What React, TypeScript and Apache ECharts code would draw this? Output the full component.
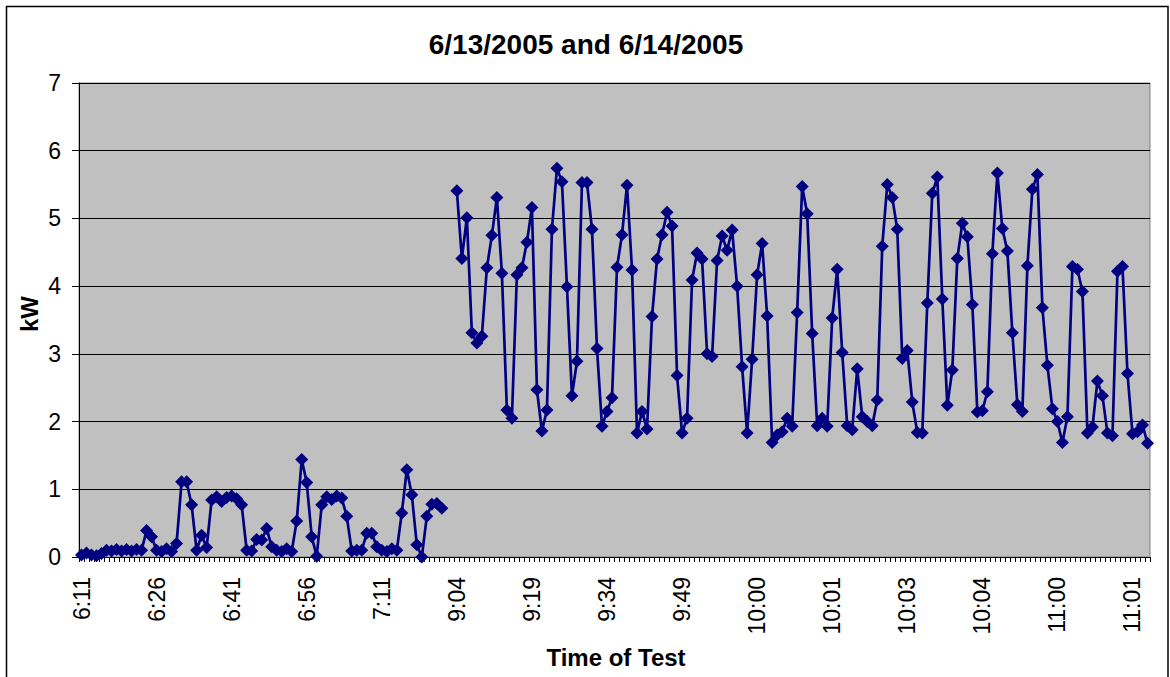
import React, { useEffect, useRef } from "react";
import * as echarts from "echarts";

// Tick labels shown every 15 readings
const tickLabels = [
  "6:11", "6:26", "6:41", "6:56", "7:11", "9:04", "9:19", "9:34",
  "9:49", "10:00", "10:01", "10:03", "10:04", "11:00", "11:01",
];
const labelEvery = 15;

// 6/13/2005 session (kW)
const day1Values = [
  0.03, 0.06, 0.03, 0.02, 0.05, 0.1, 0.09, 0.11, 0.09, 0.11, 0.09, 0.11, 0.1,
  0.39, 0.3, 0.1, 0.08, 0.12, 0.08, 0.2, 1.11, 1.11, 0.77, 0.1, 0.32, 0.14,
  0.84, 0.89, 0.82, 0.88, 0.9, 0.86, 0.77, 0.1, 0.09, 0.26, 0.25, 0.42, 0.15,
  0.1, 0.08, 0.12, 0.08, 0.53, 1.44, 1.1, 0.3, 0.01, 0.77, 0.89, 0.85, 0.9,
  0.87, 0.6, 0.09, 0.1, 0.1, 0.35, 0.35, 0.15, 0.1, 0.08, 0.12, 0.1, 0.65,
  1.29, 0.92, 0.18, 0.0, 0.6, 0.78, 0.79, 0.72,
];
// missing readings between the sessions
const gapValues = [null, null];
// 6/14/2005 session (kW)
const day2Values = [
  5.41, 4.41, 5.01, 3.31, 3.16, 3.26, 4.27, 4.75, 5.31, 4.19, 2.17, 2.05, 4.17,
  4.27, 4.65, 5.16, 2.47, 1.86, 2.17, 4.84, 5.74, 5.54, 3.99, 2.38, 2.89, 5.53,
  5.53, 4.84, 3.08, 1.93, 2.15, 2.35, 4.28, 4.76, 5.49, 4.24, 1.83, 2.15, 1.89,
  3.55, 4.4, 4.76, 5.09, 4.89, 2.68, 1.83, 2.05, 4.09, 4.49, 4.4, 3.0, 2.96,
  4.38, 4.74, 4.53, 4.83, 4.0, 2.81, 1.83, 2.92, 4.17, 4.63, 3.56, 1.69, 1.8,
  1.85, 2.05, 1.93, 3.61, 5.47, 5.07, 3.3, 1.94, 2.05, 1.93, 3.53, 4.25, 3.02,
  1.94, 1.88, 2.78, 2.07, 2.0, 1.94, 2.32, 4.59, 5.5, 5.31, 4.84, 2.93, 3.05,
  2.29, 1.84, 1.83, 3.75, 5.37, 5.61, 3.81, 2.24, 2.76, 4.41, 4.93, 4.73, 3.73,
  2.14, 2.16, 2.44, 4.48, 5.67, 4.85, 4.52, 3.31, 2.25, 2.15, 4.3, 5.43, 5.65,
  3.68, 2.83, 2.19, 2.0, 1.69, 2.07, 4.29, 4.25, 3.92, 1.83, 1.92, 2.6, 2.38,
  1.83, 1.79, 4.22, 4.29, 2.71, 1.82, 1.85, 1.95, 1.68,
];

const values = [...day1Values, ...gapValues, ...day2Values];
const categories = values.map((_, i) =>
  i % labelEvery === 0 ? tickLabels[i / labelEvery] ?? "" : `r${i}`
);

const FONT = "'Liberation Sans', Arial, sans-serif";

export default function App() {
  const ref = useRef<HTMLDivElement>(null);
  useEffect(() => {
    if (!ref.current) return;
    const chart = echarts.init(ref.current, null, { renderer: "svg" });
    chart.setOption({
      animation: false,
      backgroundColor: "#ffffff",
      grid: {
        left: 79,
        top: 83,
        width: 1071,
        height: 474,
        show: true,
        backgroundColor: "#C0C0C0",
        borderColor: "#808080",
        borderWidth: 1,
      },
      xAxis: {
        type: "category",
        data: categories,
        boundaryGap: true,
        axisLine: { show: true, lineStyle: { color: "#000", width: 1 } },
        axisTick: {
          show: true,
          interval: 0,
          length: 5,
          lineStyle: { color: "#000", width: 1 },
        },
        axisLabel: {
          interval: labelEvery - 1,
          rotate: 90,
          margin: 20,
          color: "#000",
          fontFamily: FONT,
          fontSize: 23,
          formatter: (v: string) => (v.startsWith("r") ? "" : v),
        },
        splitLine: { show: false },
      },
      yAxis: {
        type: "value",
        min: 0,
        max: 7,
        interval: 1,
        axisLine: { show: true, lineStyle: { color: "#000", width: 1 } },
        axisTick: { show: true, length: 7, lineStyle: { color: "#000" } },
        axisLabel: {
          margin: 18,
          color: "#000",
          fontFamily: FONT,
          fontSize: 23,
        },
        splitLine: { show: true, lineStyle: { color: "#000", width: 1 } },
      },
      series: [
        {
          type: "line",
          data: values,
          connectNulls: false,
          symbol: "diamond",
          symbolSize: 13,
          showAllSymbol: true,
          lineStyle: { color: "#000080", width: 2.7 },
          itemStyle: { color: "#000080", borderWidth: 0 },
        },
      ],
      graphic: [
        {
          type: "rect",
          shape: { x: 6.5, y: 6.5, width: 1161.5, height: 680 },
          style: { fill: "none", stroke: "#000", lineWidth: 1.5 },
          silent: true,
          z: 100,
        },
        {
          type: "text",
          x: 586,
          y: 44,
          style: {
            text: "6/13/2005 and 6/14/2005",
            font: `bold 28px ${FONT}`,
            fill: "#000",
            align: "center",
            verticalAlign: "middle",
          },
        },
        {
          type: "text",
          x: 29,
          y: 314,
          rotation: Math.PI / 2,
          style: {
            text: "kW",
            font: `bold 24px ${FONT}`,
            fill: "#000",
            align: "center",
            verticalAlign: "middle",
          },
        },
        {
          type: "text",
          x: 616,
          y: 657,
          style: {
            text: "Time of Test",
            font: `bold 24px ${FONT}`,
            fill: "#000",
            align: "center",
            verticalAlign: "middle",
          },
        },
      ],
    });
    return () => chart.dispose();
  }, []);
  return (
    <div
      ref={ref}
      style={{ position: "fixed", left: 0, top: 0, width: 1170, height: 677 }}
    />
  );
}
